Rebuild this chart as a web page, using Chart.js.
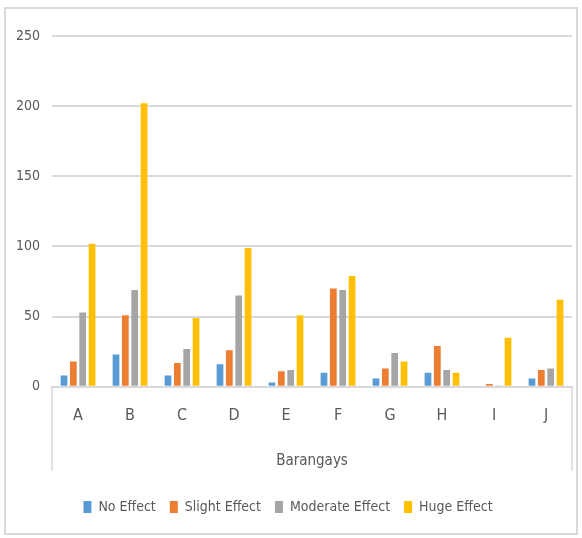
<!DOCTYPE html>
<html>
<head>
<meta charset="utf-8">
<script src="https://cdn.jsdelivr.net/npm/chart.js@4/dist/chart.umd.min.js"></script>
<style>
  html, body { margin: 0; padding: 0; background: #fff; }
  #wrap { position: relative; width: 582px; height: 538px; }
</style>
</head>
<body>
<div id="wrap"><canvas id="c" width="582" height="538"></canvas></div>
<script>
const barangays = ['A', 'B', 'C', 'D', 'E', 'F', 'G', 'H', 'I', 'J'];
const noEffect       = [8, 23, 8, 16, 3, 10, 6, 10, 0, 6];
const slightEffect   = [18, 51, 17, 26, 11, 70, 13, 29, 2, 12];
const moderateEffect = [53, 69, 27, 65, 12, 69, 24, 12, 1, 13];
const hugeEffect     = [102, 202, 49, 99, 51, 79, 18, 10, 35, 62];
const yTicks = [0, 50, 100, 150, 200, 250];

const FONT = '"DejaVu Sans"';
const STRETCH = 'condensed';
const TEXT = '#595959';
const LINE = '#d9d9d9';

// outer frame and the box under the category axis
const framePlugin = {
  id: 'frame',
  beforeDraw(chart) {
    const ctx = chart.ctx;
    ctx.save();
    ctx.fillStyle = '#fff';
    ctx.fillRect(0, 0, chart.width, chart.height);
    ctx.strokeStyle = LINE;
    ctx.lineWidth = 2;
    ctx.strokeRect(5, 8, chart.width - 10, chart.height - 12);
    ctx.restore();
  },
  afterDraw(chart) {
    const { ctx, chartArea } = chart;
    ctx.save();
    ctx.strokeStyle = LINE;
    ctx.lineWidth = 1.5;
    ctx.beginPath();
    ctx.moveTo(chartArea.left, chartArea.bottom);
    ctx.lineTo(chartArea.left, chartArea.bottom + 84);
    ctx.moveTo(chartArea.right, chartArea.bottom);
    ctx.lineTo(chartArea.right, chartArea.bottom + 84);
    ctx.stroke();
    ctx.restore();
  }
};

const mk = (label, data, color) => ({
  label, data, backgroundColor: color, borderWidth: 0,
  barPercentage: 0.72, categoryPercentage: 0.72
});

const font = (size) => ({ family: FONT, size, weight: STRETCH });

new Chart(document.getElementById('c'), {
  type: 'bar',
  data: {
    labels: barangays,
    datasets: [
      mk('No Effect', noEffect, '#5B9BD5'),
      mk('Slight Effect', slightEffect, '#ED7D31'),
      mk('Moderate Effect', moderateEffect, '#A5A5A5'),
      mk('Huge Effect', hugeEffect, '#FFC000')
    ]
  },
  options: {
    responsive: false,
    animation: false,
    layout: { padding: { top: 36, left: 4, right: 10, bottom: 14 } },
    plugins: {
      tooltip: { enabled: false },
      legend: {
        position: 'bottom',
        labels: {
          color: TEXT,
          font: font(14),
          boxWidth: 8, boxHeight: 12, padding: 14
        }
      }
    },
    scales: {
      x: {
        grid: { display: false },
        border: { display: true, color: LINE, width: 1.5 },
        ticks: { color: TEXT, font: font(16), padding: 11 },
        title: { display: true, text: 'Barangays', color: TEXT, font: font(15), padding: { top: 16, bottom: 16 } }
      },
      y: {
        min: 0, max: 250,
        afterBuildTicks(scale) { scale.ticks = yTicks.map(v => ({ value: v })); },
        grid: { color: LINE, lineWidth: 2, drawTicks: false },
        border: { display: false },
        ticks: { color: TEXT, font: font(14), padding: 12 }
      }
    }
  },
  plugins: [framePlugin]
});
</script>
</body>
</html>
